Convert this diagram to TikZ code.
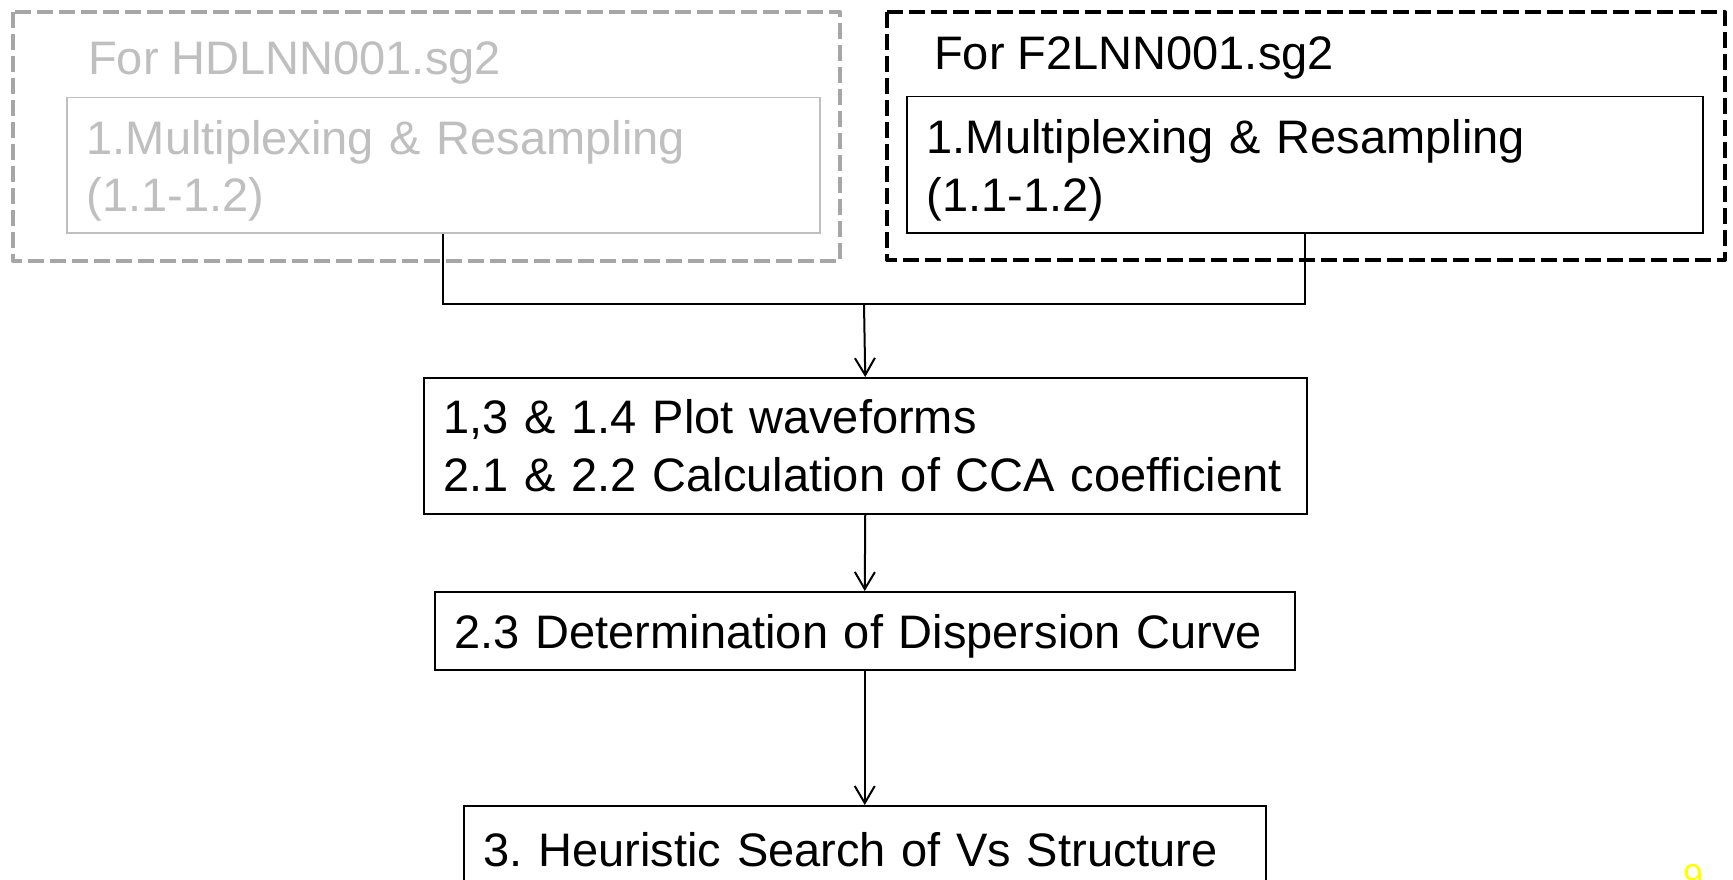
\documentclass[tikz,border=0pt]{standalone}
\usepackage{fontspec}
\setmainfont{Liberation Sans}
\usetikzlibrary{arrows.meta}
\definecolor{dgray}{HTML}{A6A6A6}
\definecolor{lgray}{HTML}{BFBFBF}
\definecolor{slideyellow}{HTML}{FFFF00}
\frenchspacing
\newcommand{\topstrut}{\rule{0pt}{45pt}}
\begin{document}
\begin{tikzpicture}[x=1pt,y=-1pt,
  every node/.style={font=\fontsize{47}{57.5}\selectfont},
  box/.style={draw, rectangle, line width=1.5pt, inner xsep=20pt, inner ysep=0pt, align=left, anchor=north west},
  title/.style={anchor=base west, inner sep=0pt},
  outerbox/.style={line width=4pt, line join=round, dash pattern=on 16pt off 6pt},
  conn/.style={line width=2pt},
  arr/.style={conn, -{Straight Barb[length=17pt,width=20pt,line width=2pt]}}]
\useasboundingbox (0,0) rectangle (1733,880);
\clip (0,0) rectangle (1733,880);
\fill[white] (0,0) rectangle (1733,880);

\draw[outerbox, dgray] (13,12) rectangle (840,261);
\draw[outerbox, black] (887,12) rectangle (1725,260);

\node[title, text=lgray] (t1) at (88,75) {For HDLNN001.sg2};
\node[title] (t2) at (934,70) {For F2LNN001.sg2};

\node[box, draw=lgray, text=lgray, text width=713pt, minimum height=135pt] (g1) at (66,97) {\mbox{\topstrut1.Multiplexing \& Resampling}\\\mbox{(1.1-1.2)}};
\node[box, text width=756pt, minimum height=136pt] (b1) at (906,96) {\mbox{\topstrut1.Multiplexing \& Resampling}\\\mbox{(1.1-1.2)}};

\node[box, text width=843pt, minimum height=136pt] (n2) at (423,377) {\mbox{1,3 \& 1.4 Plot waveforms}\\\mbox{2.1 \& 2.2 Calculation of CCA coefficient}};
\node[box, text width=820pt, minimum height=78pt] (n3) at (434,591) {\mbox{\topstrut2.3 Determination of Dispersion Curve}};
\node[box, text width=762pt, minimum height=88pt] (n4) at (463,805) {\mbox{3. Heuristic Search of Vs Structure}};

\coordinate (jn) at (864,304);
\draw[conn] (g1.south) |- (jn) -| (b1.south);
\draw[arr] (jn) -- (n2.north);
\draw[arr] (n2.south) -- (n3.north);
\draw[arr] (n3.south) -- (n4.north);

\node[text=slideyellow, anchor=north, inner sep=0pt, font=\fontsize{36}{40}\selectfont] (pg) at (1693,864) {9};
\end{tikzpicture}
\end{document}
